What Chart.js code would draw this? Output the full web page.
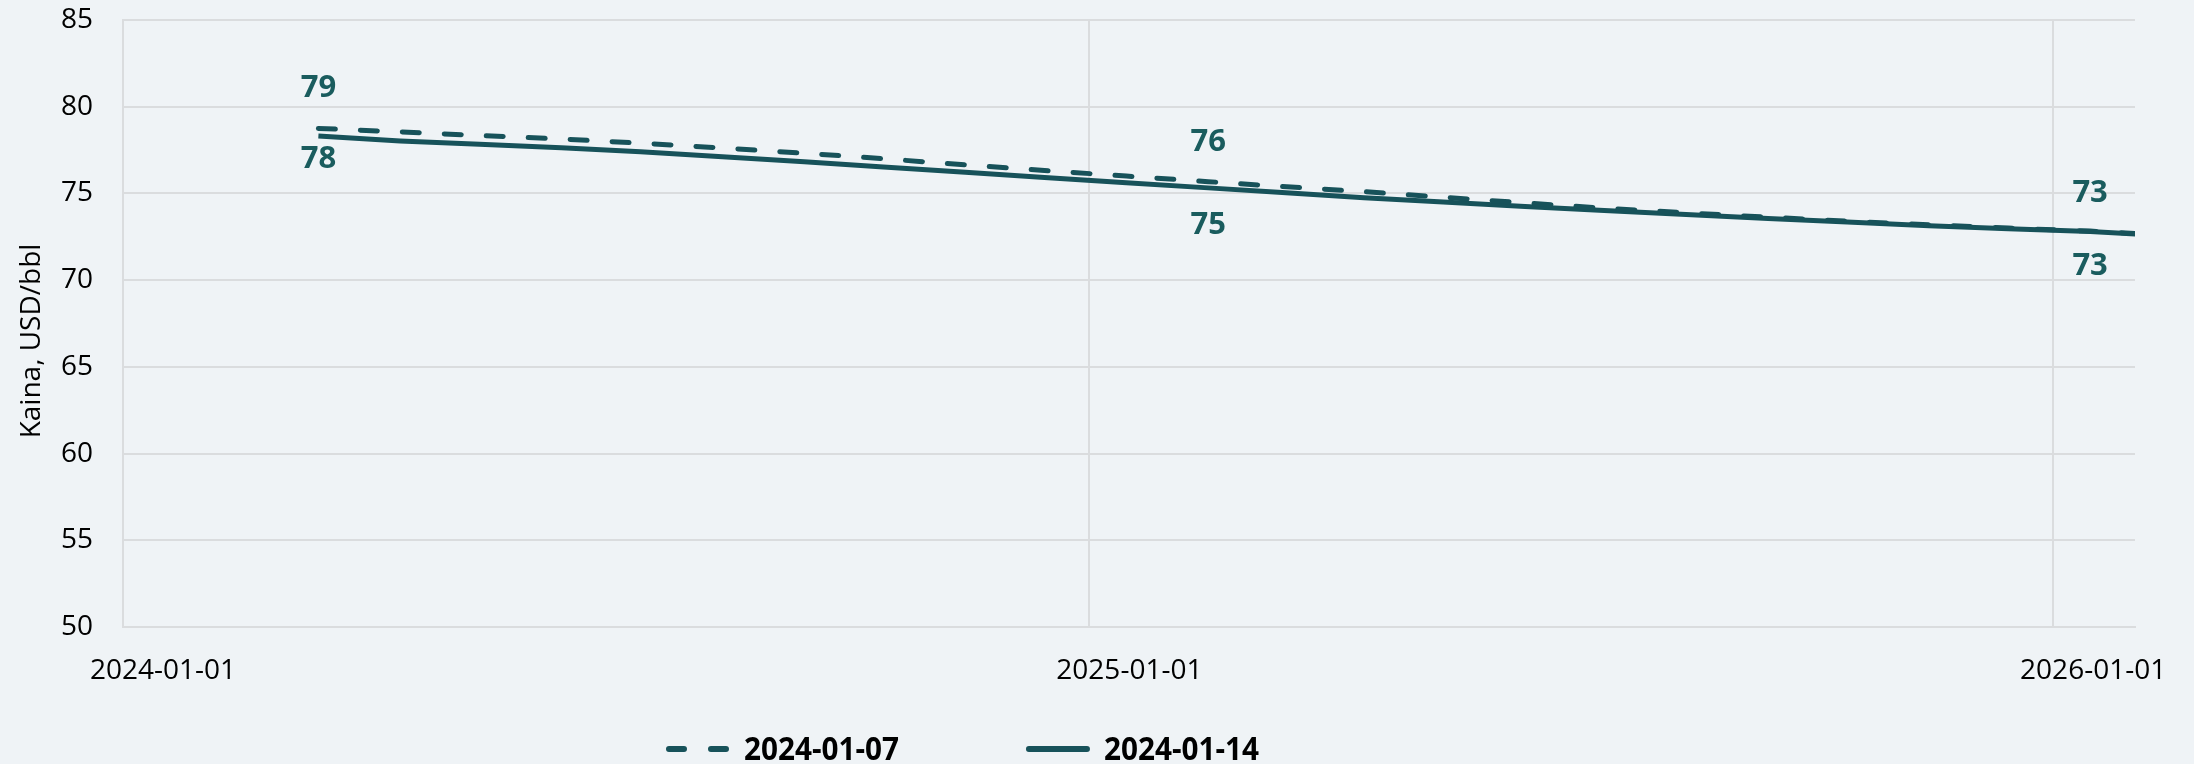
<!DOCTYPE html>
<html>
<head>
<meta charset="utf-8">
<script src="https://cdn.jsdelivr.net/npm/chart.js@4.4.1/dist/chart.umd.min.js"></script>
<style>
  html, body { margin: 0; padding: 0; background: #eff3f6; }
  #wrap { width: 2194px; height: 764px; position: relative; }
</style>
</head>
<body>
<div id="wrap"><canvas id="chart"></canvas></div>
<script>
// Monthly price forecasts (USD/bbl)
const months = [
  '2024-03-15', '2024-04-15', '2024-05-15', '2024-06-15', '2024-07-15', '2024-08-15',
  '2024-09-15', '2024-10-15', '2024-11-15', '2024-12-15', '2025-01-15', '2025-02-15',
  '2025-03-15', '2025-04-15', '2025-05-15', '2025-06-15', '2025-07-15', '2025-08-15',
  '2025-09-15', '2025-10-15', '2025-11-15', '2025-12-15', '2026-01-15', '2026-02-15'
];
const forecast0107 = [
  78.75, 78.55, 78.34, 78.14, 77.90, 77.62, 77.32, 77.00, 76.65, 76.32, 76.00, 75.68,
  75.40, 75.10, 74.78, 74.45, 74.15, 73.88, 73.63, 73.40, 73.19, 73.00, 72.83, 72.58
];
const forecast0114 = [
  78.31, 78.02, 77.83, 77.64, 77.40, 77.12, 76.83, 76.53, 76.22, 75.92, 75.62, 75.32,
  75.05, 74.75, 74.50, 74.25, 74.01, 73.78, 73.56, 73.35, 73.14, 72.96, 72.80, 72.55
];
const seriesNames = ['2024-01-07', '2024-01-14'];
const labelledPoints = [0, 11, 22];
const yearTicks = ['2024-01-01', '2025-01-01', '2026-01-01'];
const axisStart = '2024-01-01';
const axisEnd = '2026-02-01';
const yTitle = 'Kaina, USD/bbl';

const lineColor = '#17525a';
const labelColor = '#1a5c5e';
const gridColor = '#dadcde';
const FONT = '"Open Sans", sans-serif';

function toTime(s) {
  const [y, m, d] = s.split('-').map(Number);
  return Date.UTC(y, m - 1, d);
}

function toPoints(values) {
  return months.map((m, i) => ({ x: toTime(m), y: values[i] }));
}

// Value labels above / below the selected points
const pointLabels = {
  id: 'pointLabels',
  afterDatasetsDraw(chart, args, opts) {
    const ctx = chart.ctx;
    ctx.save();
    ctx.font = 'bold 31px ' + FONT;
    ctx.fillStyle = labelColor;
    ctx.textAlign = 'center';
    ctx.textBaseline = 'middle';
    chart.data.datasets.forEach((ds, d) => {
      const meta = chart.getDatasetMeta(d);
      labelledPoints.forEach((idx, k) => {
        const pt = meta.data[idx];
        ctx.fillText(Math.round(ds.data[idx].y), pt.x, pt.y + opts.offsets[d][k]);
      });
    });
    ctx.restore();
  }
};

// Rotated y axis title, sitting a little below the axis middle as in the original
const axisTitle = {
  id: 'axisTitle',
  afterDraw(chart, args, opts) {
    const ctx = chart.ctx;
    ctx.save();
    ctx.font = '28px ' + FONT;
    ctx.fillStyle = '#000';
    ctx.textAlign = 'center';
    ctx.textBaseline = 'middle';
    ctx.translate(opts.x, opts.y);
    ctx.rotate(-Math.PI / 2);
    ctx.fillText(yTitle, 0, 0);
    ctx.restore();
  }
};

// Legend drawn under the axis, left of centre like the original
const bottomLegend = {
  id: 'bottomLegend',
  afterDraw(chart, args, opts) {
    const ctx = chart.ctx;
    ctx.save();
    ctx.font = 'bold 33px "Liberation Sans Narrow", "Open Sans", sans-serif';
    ctx.textBaseline = 'middle';
    ctx.textAlign = 'left';
    let x = opts.x;
    chart.data.datasets.forEach((ds) => {
      ctx.strokeStyle = ds.borderColor;
      ctx.lineWidth = 6;
      ctx.lineCap = 'round';
      ctx.setLineDash(ds.borderDash && ds.borderDash.length ? [15, 27] : []);
      ctx.beginPath();
      ctx.moveTo(x + 3, opts.y);
      ctx.lineTo(x + opts.sample - 3, opts.y);
      ctx.stroke();
      ctx.setLineDash([]);
      x += opts.sample + opts.textGap;
      ctx.fillStyle = '#000';
      const w = ctx.measureText(ds.label).width * opts.squeeze;
      ctx.save();
      ctx.translate(x, opts.y + 2);
      ctx.scale(opts.squeeze, 1);
      ctx.fillText(ds.label, 0, 0);
      ctx.restore();
      x += w + opts.gap;
    });
    ctx.restore();
  }
};

new Chart(document.getElementById('chart'), {
  type: 'line',
  data: {
    datasets: [
      {
        label: seriesNames[0],
        data: toPoints(forecast0107),
        borderColor: lineColor,
        borderWidth: 5,
        borderDash: [17, 25],
        borderCapStyle: 'round',
        pointRadius: 0,
        tension: 0,
        clip: 0
      },
      {
        label: seriesNames[1],
        data: toPoints(forecast0114),
        borderColor: lineColor,
        borderWidth: 5,
        pointRadius: 0,
        tension: 0,
        clip: 0
      }
    ]
  },
  options: {
    responsive: true,
    maintainAspectRatio: false,
    animation: false,
    layout: { padding: { top: 20, right: 59, left: 0, bottom: 0 } },
    plugins: {
      legend: { display: false },
      tooltip: { enabled: false },
      pointLabels: { offsets: [[-40, -39, -38], [23, 37, 35]] },
      axisTitle: { x: 32, y: 341 },
      bottomLegend: { x: 666, y: 749, sample: 64, textGap: 14, gap: 127, squeeze: 0.9 }
    },
    scales: {
      x: {
        type: 'linear',
        min: toTime(axisStart),
        max: toTime(axisEnd),
        afterBuildTicks(scale) {
          scale.ticks = yearTicks.map(t => ({ value: toTime(t) }));
        },
        afterFit(scale) {
          scale.height = 137;
          scale.paddingLeft = 0;
          scale.paddingRight = 0;
        },
        ticks: {
          callback(value) {
            const i = yearTicks.findIndex(t => toTime(t) === value);
            return i >= 0 ? yearTicks[i] : '';
          },
          labelOffset: 40,
          padding: 27,
          maxRotation: 0,
          autoSkip: false,
          color: '#000',
          font: { family: FONT, size: 28 }
        },
        grid: { color: gridColor, lineWidth: 2, drawTicks: false },
        border: { color: gridColor, width: 2 }
      },
      y: {
        min: 50,
        max: 85,
        afterFit(scale) {
          scale.width = 123;
          scale.paddingTop = 0;
          scale.paddingBottom = 0;
        },
        ticks: {
          stepSize: 5,
          padding: 30,
          color: '#000',
          font: { family: FONT, size: 28 }
        },
        grid: { color: gridColor, lineWidth: 2, drawTicks: false },
        border: { color: gridColor, width: 2 }
      }
    }
  },
  plugins: [pointLabels, axisTitle, bottomLegend]
});
</script>
</body>
</html>
